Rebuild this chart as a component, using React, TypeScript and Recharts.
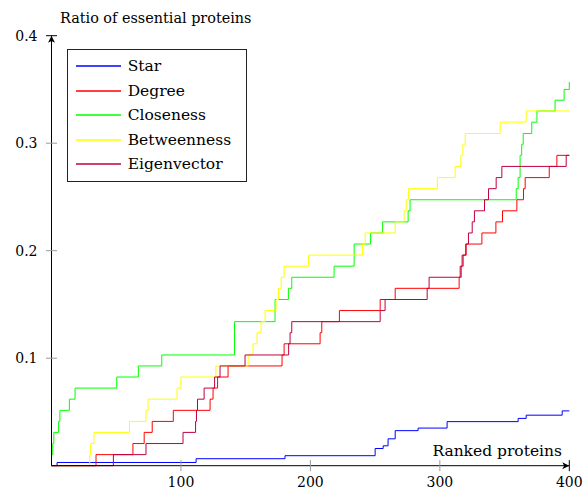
import { Line, LineChart, XAxis, YAxis } from "recharts"

// step breakpoints [rank, ratio]
const starSteps = [
  [0, 0], [4.3, 0.003], [111.7, 0.0065], [180.4, 0.0093], [250, 0.016], [256.2, 0.0185],
  [260, 0.025], [265.5, 0.0326], [283.2, 0.035], [305.6, 0.041], [360.5, 0.044],
  [366.7, 0.047], [394.5, 0.051], [400, 0.051],
]
const degreeSteps = [
  [0, 0], [34.4, 0.0103], [62.9, 0.0206], [71.6, 0.031], [77.8, 0.0412], [94.1, 0.0515],
  [122.5, 0.0619], [124.8, 0.0722], [128.3, 0.0825], [136.4, 0.0928], [178.1, 0.103],
  [179.7, 0.1134], [207.5, 0.1237], [208.8, 0.134], [222.4, 0.1443], [253.9, 0.1546],
  [265.5, 0.165], [314.9, 0.1753], [316.5, 0.1856], [318, 0.1959], [320.3, 0.2062],
  [332.5, 0.2165], [343.3, 0.2268], [348.4, 0.2371], [359.5, 0.2474], [364.6, 0.2577],
  [365.9, 0.268], [384.5, 0.2784], [390.4, 0.2887], [400, 0.2887],
]
const closenessSteps = [
  [0, 0.0103], [1, 0.0206], [1.8, 0.031], [5.5, 0.0412], [6.5, 0.0515], [13.8, 0.0619],
  [18.2, 0.0722], [50.4, 0.0825], [67.1, 0.0928], [85.2, 0.103], [141.4, 0.134],
  [172.7, 0.1546], [183, 0.165], [185.6, 0.1753], [218.3, 0.1856], [233.8, 0.2062],
  [246.5, 0.2165], [255.8, 0.2268], [275.5, 0.2371], [277, 0.2474], [359, 0.2577],
  [360.5, 0.268], [362, 0.2887], [363.2, 0.299], [364.4, 0.309], [371, 0.3196],
  [375, 0.33], [389, 0.34], [396, 0.35], [400, 0.357],
]
const betweennessSteps = [
  [0, 0], [29.5, 0.0103], [30.2, 0.0206], [32.8, 0.031], [60.3, 0.0412], [73, 0.0515],
  [74.6, 0.0619], [97, 0.0722], [100, 0.0825], [127, 0.0928], [151.9, 0.103],
  [155.7, 0.1134], [158.8, 0.1237], [161.9, 0.134], [165, 0.1443], [173.5, 0.1546],
  [175.4, 0.165], [177.4, 0.1753], [179.7, 0.1856], [198.5, 0.1959], [240.2, 0.2062],
  [242.3, 0.2165], [265.5, 0.2268], [272.4, 0.2371], [274, 0.2474], [275.7, 0.2577],
  [298.1, 0.268], [311.8, 0.2784], [316.2, 0.2887], [317.8, 0.299], [319.6, 0.309],
  [346.6, 0.3196], [366.7, 0.33], [400, 0.33],
]
const eigenvectorSteps = [
  [0, 0], [47.8, 0.0103], [73, 0.0206], [101.6, 0.031], [111.3, 0.0412], [112, 0.0515],
  [112.8, 0.0619], [117.9, 0.0722], [126, 0.0825], [130.2, 0.0928], [149.5, 0.103],
  [183.2, 0.1134], [184.3, 0.1237], [185.6, 0.134], [253.9, 0.1443], [257.7, 0.1546],
  [290.2, 0.165], [291.7, 0.1753], [315.7, 0.1856], [317.2, 0.1959], [320, 0.2062],
  [322.1, 0.2165], [325, 0.2268], [326.7, 0.2371], [334.5, 0.2474], [337.6, 0.2577],
  [343.5, 0.268], [347.9, 0.2784], [397.6, 0.2887], [400, 0.2887],
]

const seriesNames = ["Star", "Degree", "Closeness", "Betweenness", "Eigenvector"]
const seriesColors = ["#0000ff", "#ff0000", "#00ff00", "#ffff00", "#bf0040"]
const seriesSteps = [starSteps, degreeSteps, closenessSteps, betweennessSteps, eigenvectorSteps]

const xTicks = [100, 200, 300, 400]
const yTicks = [0.1, 0.2, 0.3, 0.4]

const FONT = "'DejaVu Serif', serif"

function XTick({ x, y, payload }: any) {
  const last = payload.value === 400
  return (
    <g>
      <line x1={x} x2={x} y1={y - 5.5} y2={y + 5.5} stroke={last ? "#000" : "#9a9a9a"} />
      <text x={x} y={y + 21.5} textAnchor="middle" fontSize={14} fontFamily={FONT} fill="#000">
        {payload.value}
      </text>
    </g>
  )
}

function YTick({ x, y, payload }: any) {
  const last = payload.value === 0.4
  return (
    <g>
      <line x1={x - 5.5} x2={x + 5.5} y1={y} y2={y} stroke={last ? "#000" : "#9a9a9a"} />
      <text x={x - 14} y={y + 5} textAnchor="end" fontSize={14} fontFamily={FONT} fill="#000">
        {payload.value.toFixed(1)}
      </text>
    </g>
  )
}

export default function App() {
  return (
    <div style={{ position: "absolute", left: 0, top: 0, width: 585, height: 491, background: "#fff" }}>
      <LineChart width={585} height={491} margin={{ top: 35.7, right: 15.7, left: 0, bottom: 0 }}>
        <defs>
          <marker id="arr" viewBox="-1 -4 9 8" markerWidth={9} markerHeight={8} refX={7} refY={0}
            orient="auto-start-reverse" markerUnits="userSpaceOnUse">
            <path d="M0,-3.5 L7,0 L0,3.5 L1.8,0 Z" fill="#000" />
          </marker>
        </defs>
        <XAxis type="number" dataKey="x" domain={[0, 400]} ticks={xTicks} height={25.3}
          tickSize={0} tickMargin={0} tickLine={false} tick={<XTick />}
          axisLine={{ stroke: "#000", strokeWidth: 1, markerEnd: "url(#arr)" }} />
        <YAxis type="number" domain={[0, 0.4]} ticks={yTicks} width={51.5}
          tickSize={0} tickMargin={0} tickLine={false} tick={<YTick />}
          axisLine={{ stroke: "#000", strokeWidth: 1, markerStart: "url(#arr)" }} />
        {seriesSteps.map((steps, i) => (
          <Line key={seriesNames[i]} name={seriesNames[i]} data={steps.map(([x, y]) => ({ x, y }))}
            dataKey="y" type="stepAfter" stroke={seriesColors[i]} strokeWidth={1}
            dot={false} activeDot={false} isAnimationActive={false} />
        ))}
        <text x={60} y={23} fontSize={14.4} fontFamily={FONT} fill="#000">Ratio of essential proteins</text>
        <text x={562} y={456} textAnchor="end" fontSize={15.5} fontFamily={FONT} fill="#000">Ranked proteins</text>
      </LineChart>
      <div style={{
        position: "absolute", left: 67.3, top: 49, width: 179.4, height: 132.7, boxSizing: "border-box",
        border: "1px solid #222", background: "#fff", paddingTop: 3.7, paddingLeft: 7.7,
        fontFamily: FONT, fontSize: 15.5, color: "#000",
      }}>
        {seriesNames.map((name, i) => (
          <div key={name} style={{ height: 24.6, display: "flex", alignItems: "center" }}>
            <svg width={45} height={4} style={{ marginRight: 6.7, flex: "none" }}>
              <line x1={0} x2={45} y1={2} y2={2} stroke={seriesColors[i]} strokeWidth={1.3} />
            </svg>
            <span style={{ lineHeight: "18px" }}>{name}</span>
          </div>
        ))}
      </div>
    </div>
  )
}
